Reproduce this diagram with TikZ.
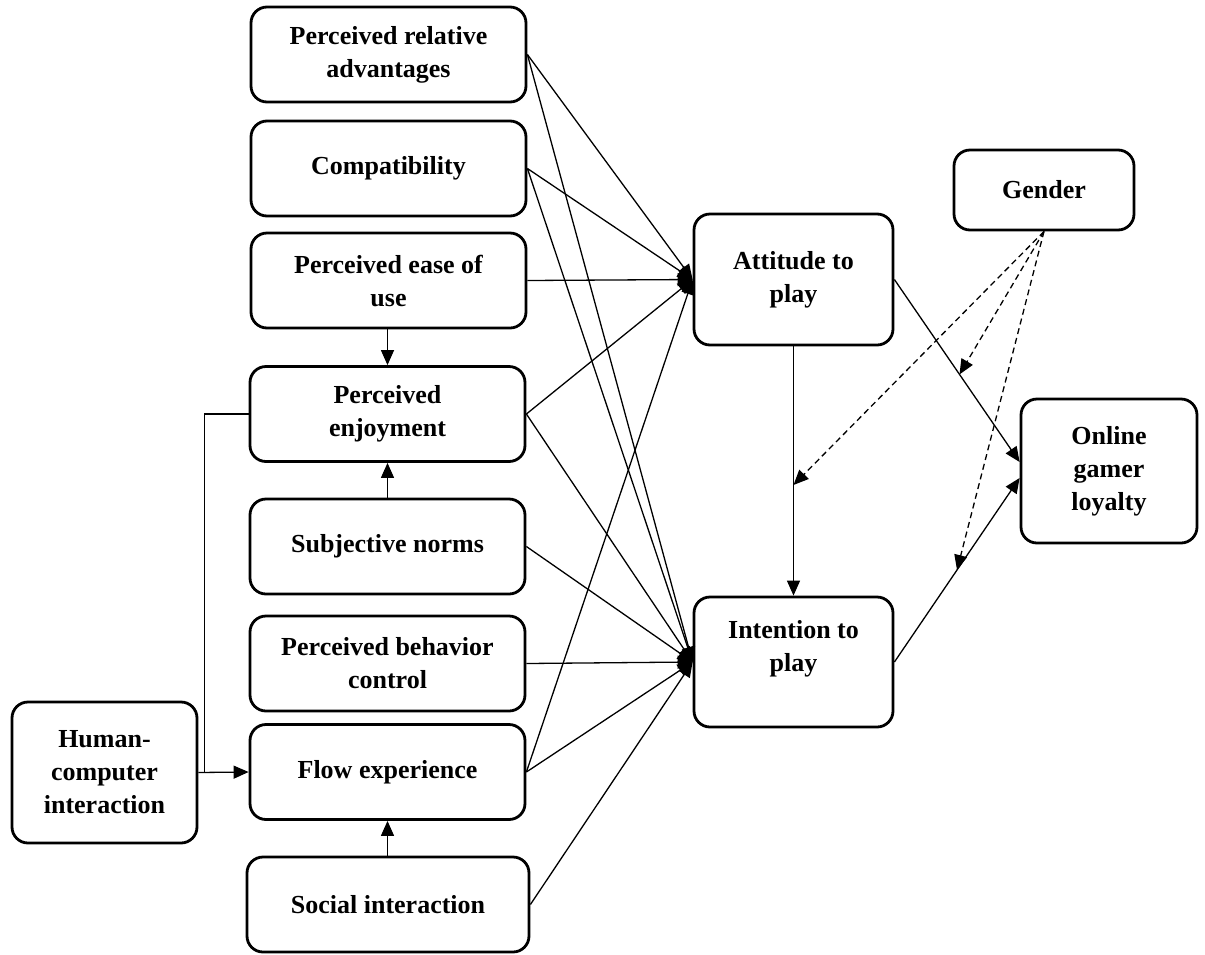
\documentclass[tikz,border=0pt]{standalone}
\usepackage{fontspec}
\setmainfont{Liberation Serif}
\usetikzlibrary{arrows.meta,calc}

\tikzset{
  factor/.style={draw, line width=1.4pt, rounded corners=8pt, align=center, inner sep=0pt},
  leftbox/.style={factor, minimum width=137.5pt, minimum height=47.5pt},
  link/.style={line width=0.65pt, -{Triangle[length=7.5pt,width=6.5pt]}},
  moderate/.style={link, dash pattern=on 3pt off 2pt}
}

\begin{document}
\begin{tikzpicture}[x=0.5pt, y=-0.5pt, font=\fontsize{13}{16.5}\selectfont\bfseries]
			%%%%% FRAME %%%%%
			\useasboundingbox (0,0) rectangle (1205,954);
			
			%%%%% FACTORS %%%%%
			\node[leftbox] (adv) at (388.5, 54.5) {Perceived relative\\advantages};
			\node[leftbox] (comp) at (388.5, 168.5) {Compatibility};
			\node[leftbox] (ease) at (388.5, 280.5) {Perceived ease of\\use};
			\node[leftbox] (enjoy) at (387.5, 414) {Perceived\\enjoyment};
			\node[leftbox] (norms) at (387.5, 546.5) {Subjective norms};
			\node[leftbox] (control) at (387.5, 663.5) {Perceived behavior\\control};
			\node[leftbox] (flow) at (387.5, 772) {Flow experience};
			\node[leftbox, minimum width=141pt] (social) at (388, 904.5) {Social interaction};
			
			\node[factor, minimum width=92.5pt, minimum height=70.5pt] (hci) at (104.5, 772.5) {Human-\\computer\\interaction};
			
			\node[factor, minimum width=99.5pt, minimum height=65.5pt] (att) at (793.5, 279.5) {Attitude to\\play};
			\node[factor, minimum width=99.5pt, minimum height=65pt] (int) at (793.5, 662) {Intention to\\play\\\mbox{}};
			
			\node[factor, minimum width=90pt, minimum height=40pt] (gender) at (1044, 190) {Gender};
			\node[factor, minimum width=88pt, minimum height=72pt] (loyal) at (1109, 471) {Online\\gamer\\loyalty};
			
			%%%%% INPUTS %%%%%
			\draw[link] (adv.east) -- (att.west);
			\draw[link] (adv.east) -- (int.west);
			\draw[link] (comp.east) -- (att.west);
			\draw[link] (comp.east) -- (int.west);
			\draw[link] (ease.east) -- (att.west);
			\draw[link] (enjoy.east) -- (att.west);
			\draw[link] (enjoy.east) -- (int.west);
			\draw[link] (norms.east) -- (int.west);
			\draw[link] (control.east) -- (int.west);
			\draw[link] (flow.east) -- (att.west);
			\draw[link] (flow.east) -- (int.west);
			\draw[link] (social.east) -- (int.west);
			
			\draw[link] (enjoy.north |- ease.south) -- (enjoy.north);
			\draw[link] (norms.north) -- (enjoy.south);
			\draw[link] (flow.south |- social.north) -- (flow.south);
			
			\coordinate (join) at ([xshift=3pt]hci.east);
			\draw[line width=0.65pt] (enjoy.west) -| (join);
			\draw[link] (hci.east) -- (flow.west);
			
			%%%%% OUTCOMES %%%%%
			\draw[link] (att.south) -- (int.north) coordinate[pos=0.556] (m1);
			\draw[link] (att.east) -- ([yshift=4.5pt]loyal.west) coordinate[pos=0.52] (m2);
			\draw[link] (int.east) -- ([yshift=-3.5pt]loyal.west) coordinate[pos=0.5] (m3);
			
			\draw[moderate] (gender.south) -- (m1);
			\draw[moderate] (gender.south) -- (m2);
			\draw[moderate] (gender.south) -- (m3);
			
\end{tikzpicture}
\end{document}
